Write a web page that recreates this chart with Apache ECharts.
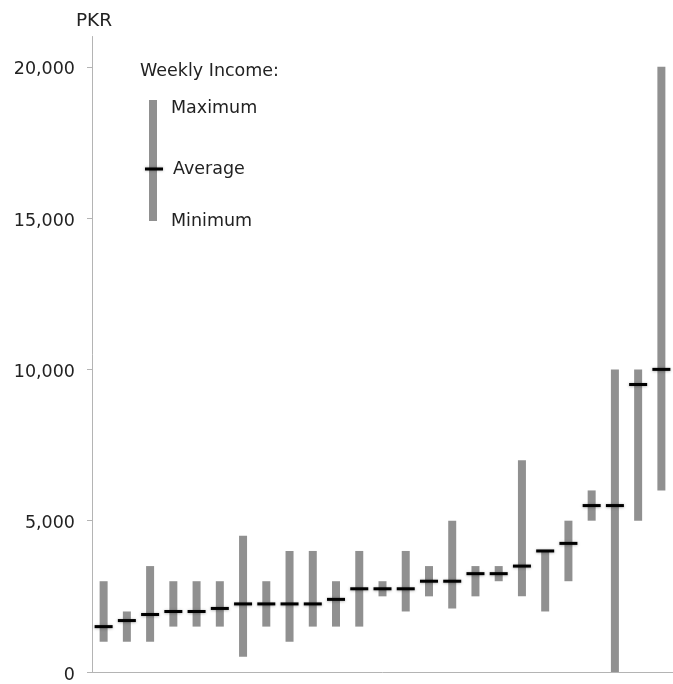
<!DOCTYPE html>
<html>
<head>
<meta charset="utf-8">
<script src="https://cdn.jsdelivr.net/npm/echarts@6/dist/echarts.min.js"></script>
<style>
html,body{margin:0;padding:0;background:#fff;}
#chart{width:673px;height:684px;}
</style>
</head>
<body>
<div id="chart"></div>
<script>
const categories = ['1','2','3','4','5','6','7','8','9','10','11','12','13','14','15','16','17','18','19','20','21','22','23','24','25'];
const minimum = [1000,1000,1000,1500,1500,1500,500,1500,1000,1500,1500,1500,2500,2000,2500,2100,2500,3000,2500,2000,3000,5000,0,5000,6000];
const maximum = [3000,2000,3500,3000,3000,3000,4500,3000,4000,4000,3000,4000,3000,4000,3500,5000,3500,3500,7000,4000,5000,6000,10000,10000,20000];
const average = [1500,1700,1900,2000,2000,2100,2250,2250,2250,2250,2400,2750,2750,2750,3000,3000,3250,3250,3500,4000,4250,5500,5500,9500,10000];
const yTicks = [0,5000,10000,15000,20000];
const axisName = 'PKR';
const legendTitle = 'Weekly Income:';
const legendLabels = ['Maximum','Average','Minimum'];

const FONT = 'DejaVu Sans';
const BAR = '#909090';
const TEXT = '#222';

const seriesData = categories.map((c, i) => [i, minimum[i], maximum[i], average[i]]);

const chart = echarts.init(document.getElementById('chart'), null, {renderer: 'canvas'});
chart.setOption({
  animation: false,
  backgroundColor: '#fff',
  grid: {left: 92, top: 36.5, bottom: 12, width: 589},
  xAxis: {
    type: 'category',
    data: categories,
    boundaryGap: true,
    axisLine: {lineStyle: {color: '#b4b4b4', width: 1}},
    axisTick: {show: false},
    axisLabel: {show: false},
    splitLine: {show: false}
  },
  yAxis: {
    type: 'value',
    min: 0,
    max: 21000,
    interval: 5000,
    name: axisName,
    nameLocation: 'end',
    nameGap: 6,
    nameTextStyle: {fontFamily: FONT, fontSize: 18.5, color: TEXT, padding: [0, 0, 0, 4]},
    axisLine: {show: true, lineStyle: {color: '#b4b4b4', width: 1}},
    axisTick: {show: true, length: 5, customValues: yTicks, lineStyle: {color: '#b4b4b4'}},
    axisLabel: {
      customValues: yTicks,
      margin: 17,
      fontFamily: FONT,
      fontSize: 17.5,
      color: TEXT,
      verticalAlign: 'top',
      lineHeight: 6,
      formatter: v => Number(v).toLocaleString('en-US')
    },
    splitLine: {show: false}
  },
  series: [{
    type: 'custom',
    data: seriesData,
    encode: {x: 0, y: [1, 2, 3]},
    clip: false,
    renderItem: function (params, api) {
      const x = api.value(0);
      const pMin = api.coord([x, api.value(1)]);
      const pMax = api.coord([x, api.value(2)]);
      const pAvg = api.coord([x, api.value(3)]);
      return {
        type: 'group',
        children: [
          {type: 'rect', shape: {x: pMax[0] - 4, y: pMax[1], width: 8, height: pMin[1] - pMax[1]}, style: {fill: BAR}},
          {type: 'rect', shape: {x: pAvg[0] - 9, y: pAvg[1] - 1.5, width: 18, height: 3},
           style: {fill: '#000', shadowBlur: 3, shadowColor: 'rgba(0,0,0,0.35)', shadowOffsetY: 0.5}}
        ]
      };
    }
  }],
  graphic: [
    {type: 'text', left: 140, top: 62, style: {text: legendTitle, font: '17.5px "DejaVu Sans"', fill: TEXT}},
    {type: 'rect', shape: {x: 149, y: 100, width: 8, height: 121}, style: {fill: BAR}},
    {type: 'rect', shape: {x: 145, y: 167.5, width: 18, height: 3}, style: {fill: '#000', shadowBlur: 3, shadowColor: 'rgba(0,0,0,0.35)'}},
    {type: 'text', left: 171, top: 99, style: {text: legendLabels[0], font: '17.5px "DejaVu Sans"', fill: TEXT}},
    {type: 'text', left: 173, top: 160, style: {text: legendLabels[1], font: '17.5px "DejaVu Sans"', fill: TEXT}},
    {type: 'text', left: 171, top: 212, style: {text: legendLabels[2], font: '17.5px "DejaVu Sans"', fill: TEXT}}
  ]
});
</script>
</body>
</html>
